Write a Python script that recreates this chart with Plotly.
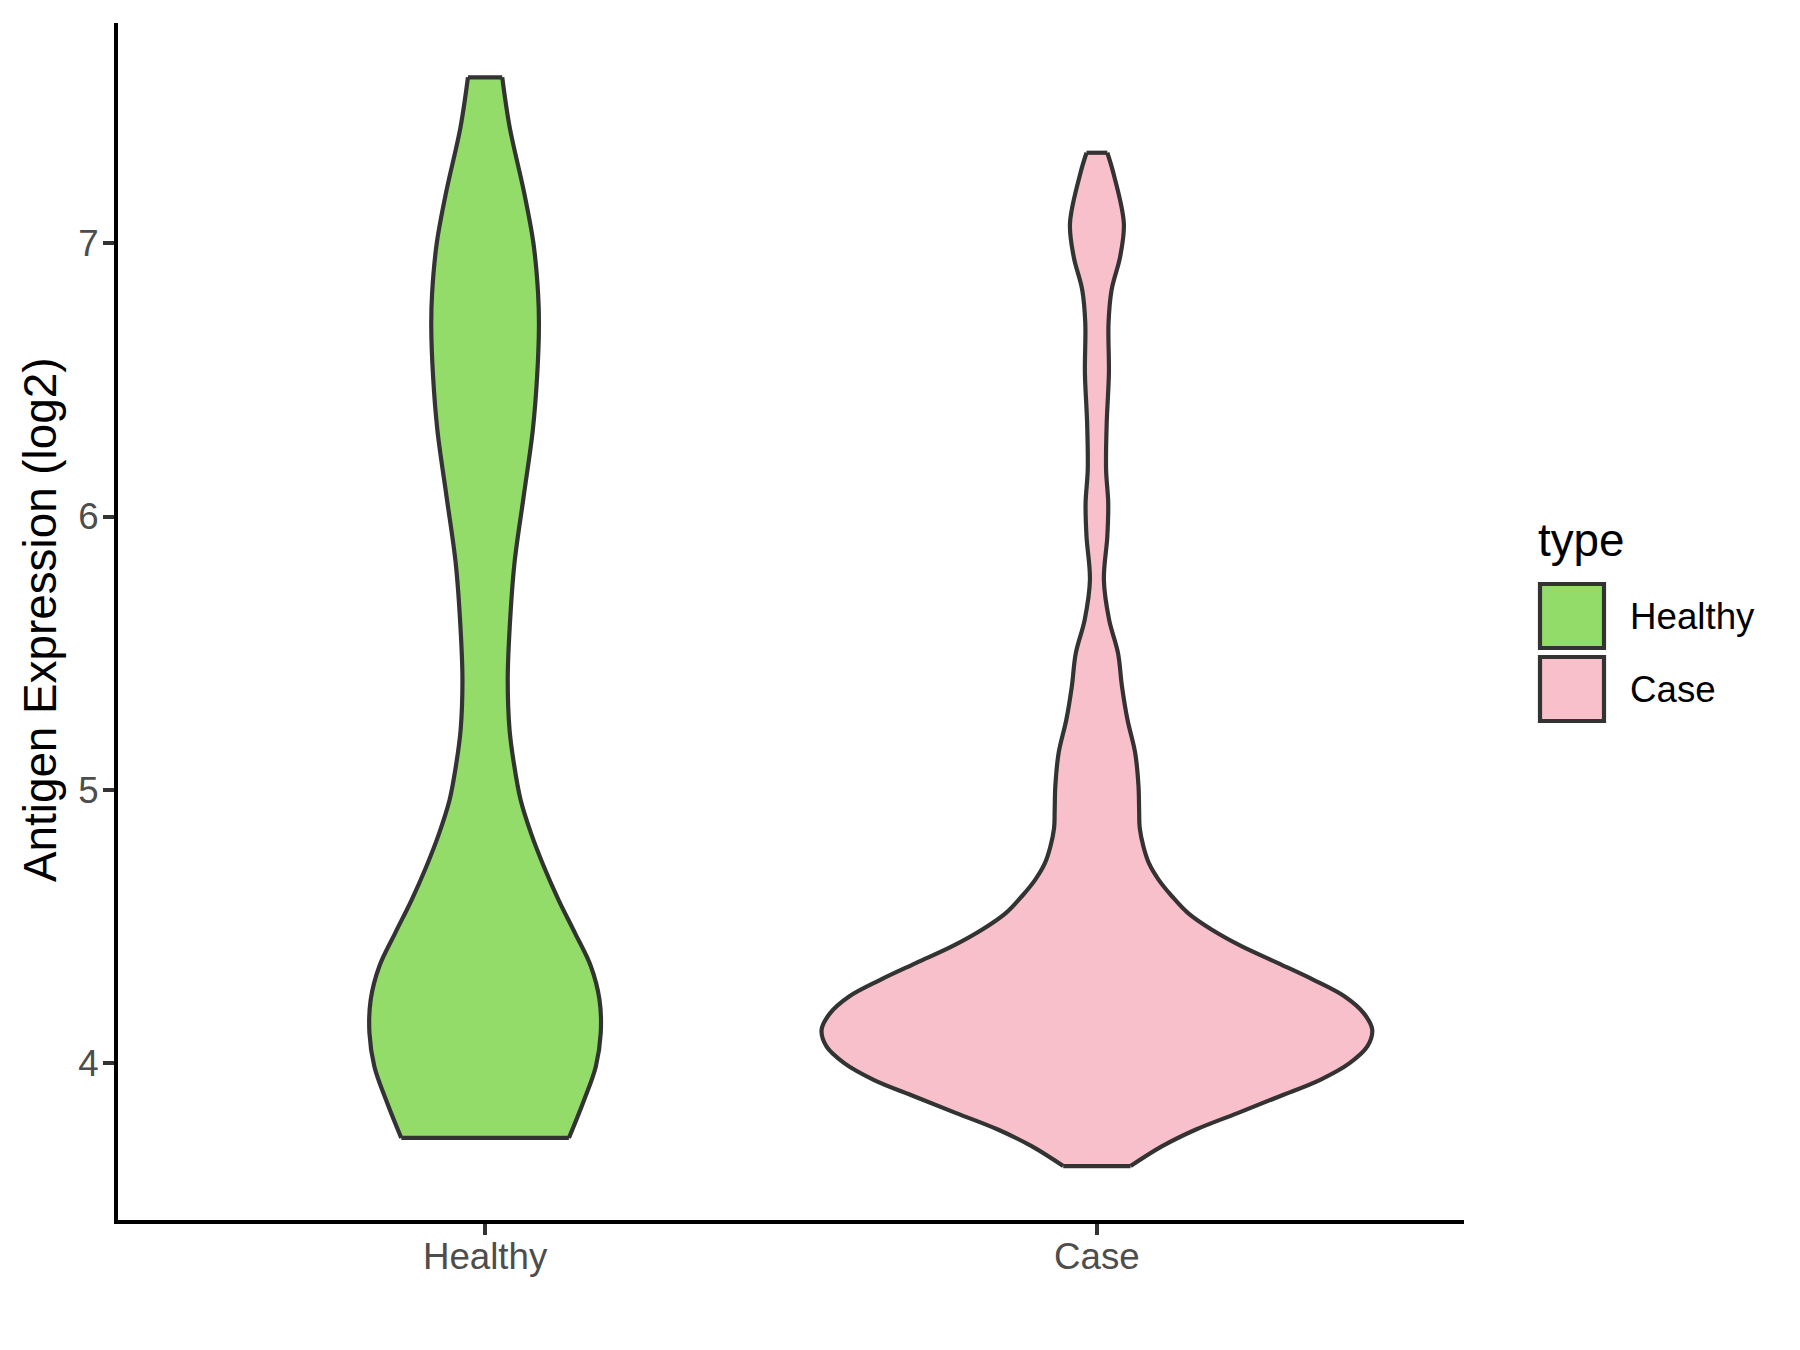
import plotly.graph_objects as go

# ---- data ----
categories = ["Healthy", "Case"]
fill_colors = ["#93DC6A", "#F8C0CB"]

# violin half-width profile (in x-axis units) at expression levels
healthy_y = [3.725, 3.865, 3.987, 4.109, 4.231, 4.353, 4.475, 4.597, 4.719, 4.841,
             4.963, 5.097, 5.219, 5.402, 5.585, 5.829, 6.073, 6.317, 6.512, 6.695,
             6.818, 7.001, 7.184, 7.428, 7.608]
healthy_hw = [0.137, 0.162, 0.181, 0.189, 0.187, 0.173, 0.147, 0.120, 0.096, 0.075,
              0.058, 0.047, 0.040, 0.037, 0.040, 0.048, 0.063, 0.078, 0.085, 0.088,
              0.0866, 0.079, 0.064, 0.040, 0.028]

case_y = [3.622, 3.694, 3.755, 3.816, 3.877, 3.938, 3.999, 4.060, 4.121, 4.182,
          4.243, 4.304, 4.365, 4.426, 4.487, 4.548, 4.609, 4.670, 4.731, 4.792,
          4.860, 4.926, 5.012, 5.134, 5.256, 5.378, 5.500, 5.622, 5.768, 5.927,
          6.049, 6.171, 6.342, 6.525, 6.708, 6.830, 6.952, 7.074, 7.257, 7.332]
case_hw = [0.055, 0.106, 0.161, 0.230, 0.298, 0.365, 0.413, 0.442, 0.450, 0.436,
           0.405, 0.354, 0.296, 0.237, 0.188, 0.149, 0.123, 0.101, 0.085, 0.076,
           0.070, 0.069, 0.068, 0.0626, 0.050, 0.041, 0.0345, 0.020, 0.0114, 0.017,
           0.0185, 0.015, 0.016, 0.0196, 0.019, 0.024, 0.038, 0.044, 0.027, 0.017]

profiles = [(healthy_y, healthy_hw), (case_y, case_hw)]

y_ticks = [4, 5, 6, 7]

# ---- figure ----
OFF = 8                      # default page body margin
W, H = 1800 - 2 * OFF, 1350 - 2 * OFF
# plot area in page pixels
L, R, T, B = 118, 1464, 23, 1220
FONT = "Liberation Sans, Arial, Helvetica, sans-serif"
OUTLINE = "#333333"
LW = 4.2
SPLINE = dict(shape="spline", smoothing=1.0)

fig = go.Figure()
outline_traces = []
for i, (cat, col, (ys, hws)) in enumerate(zip(categories, fill_colors, profiles)):
    c = i + 1
    right_x = [c + w for w in hws]
    left_x = [c - w for w in hws]
    # fill between the two smooth sides (flat ends joined straight)
    fig.add_trace(go.Scatter(
        x=left_x, y=ys, mode="lines", line=dict(width=0, color=col, **SPLINE),
        showlegend=False, hoverinfo="skip"))
    fig.add_trace(go.Scatter(
        x=right_x, y=ys, mode="lines", fill="tonextx", fillcolor=col,
        line=dict(width=0, color=col, **SPLINE),
        showlegend=False, hoverinfo="skip"))
    # outlines
    for sx in (right_x, left_x):
        outline_traces.append(go.Scatter(
            x=sx, y=ys, mode="lines",
            line=dict(color=OUTLINE, width=LW, **SPLINE),
            showlegend=False, hoverinfo="skip"))
    for k in (0, -1):
        outline_traces.append(go.Scatter(
            x=[left_x[k], right_x[k]], y=[ys[k], ys[k]], mode="lines",
            line=dict(color=OUTLINE, width=LW),
            showlegend=False, hoverinfo="skip"))
for tr in outline_traces:
    fig.add_trace(tr)

fig.update_layout(
    width=W, height=H,
    margin=dict(l=L - OFF, r=W - (R - OFF), t=T - OFF, b=H - (B - OFF), pad=0),
    paper_bgcolor="white", plot_bgcolor="white",
    font=dict(family=FONT),
    showlegend=False,
)
fig.update_xaxes(
    range=[0.4, 2.6], tickmode="array", tickvals=[1, 2], ticktext=categories,
    showgrid=False, zeroline=False, showline=True, linecolor="black", linewidth=4,
    ticks="outside", ticklen=11, tickwidth=4, tickcolor=OUTLINE,
    tickfont=dict(size=36.7, color="#4D4D4D", family=FONT),
    ticklabelstandoff=-10,
)
fig.update_yaxes(
    range=[3.4246, 7.807], tickmode="array", tickvals=y_ticks,
    ticktext=[str(t) for t in y_ticks],
    showgrid=False, zeroline=False, showline=True, linecolor="black", linewidth=4,
    ticks="outside", ticklen=11, tickwidth=4, tickcolor=OUTLINE,
    tickfont=dict(size=36.7, color="#4D4D4D", family=FONT),
    ticklabelstandoff=-3,
)

def px_x(p):
    return (p - L) / (R - L)

def px_y(p):
    return (B - p) / (B - T)

# y axis title
fig.add_annotation(
    x=px_x(40), y=px_y(620), xref="paper", yref="paper",
    text="Antigen Expression (log2)", textangle=-90, showarrow=False,
    font=dict(size=45.8, color="black", family=FONT),
    xanchor="center", yanchor="middle")

# legend (drawn manually to match ggplot's key boxes)
fig.add_annotation(
    x=px_x(1536), y=px_y(540), xref="paper", yref="paper", text="type",
    showarrow=False, xanchor="left", yanchor="middle",
    font=dict(size=45.8, color="black", family=FONT))
key_tops = [584, 657]
for cat, col, top in zip(categories, fill_colors, key_tops):
    fig.add_shape(type="rect", xref="paper", yref="paper",
                  x0=px_x(1540), x1=px_x(1604), y0=px_y(top), y1=px_y(top + 64),
                  fillcolor=col, line=dict(color=OUTLINE, width=LW))
    fig.add_annotation(
        x=px_x(1628), y=px_y(top + 32), xref="paper", yref="paper", text=cat,
        showarrow=False, xanchor="left", yanchor="middle",
        font=dict(size=36.7, color="black", family=FONT))

fig.write_html("out.html")
